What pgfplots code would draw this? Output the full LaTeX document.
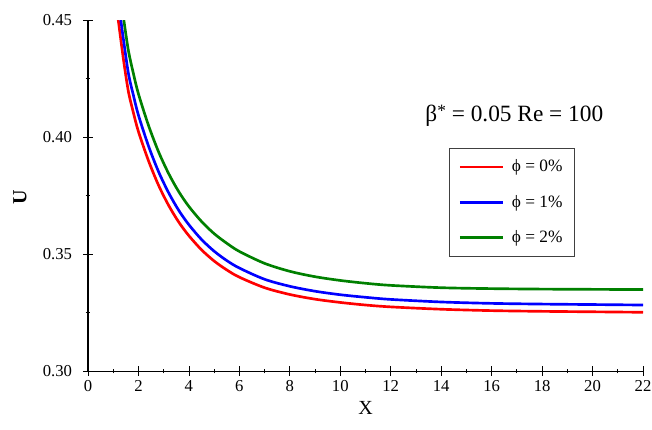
\documentclass[border=0pt]{standalone}
\usepackage{fontspec}
\setmainfont{Liberation Serif}
\usepackage{pgfplots}
\pgfplotsset{compat=1.18}
\usetikzlibrary{calc}
\definecolor{cRed}{RGB}{255,0,0}
\definecolor{cBlue}{RGB}{0,0,255}
\definecolor{cGreen}{RGB}{0,128,0}
\begin{document}
\begin{tikzpicture}
\begin{axis}[
  scale only axis, width=416.25pt, height=263.25pt,
  xmin=0, xmax=22, ymin=0.30, ymax=0.45,
  axis lines=left, axis line style={-, line width=0.75pt},
  xtick={0,2,...,22}, minor x tick num=1,
  ytick={0.30,0.35,0.40,0.45}, minor y tick num=1,
  tick align=center, major tick length=7pt, minor tick length=3.5pt,
  tick style={black, line width=0.6pt},
  /pgf/number format/assume math mode=true,
  yticklabel style={/pgf/number format/fixed, /pgf/number format/fixed zerofill, /pgf/number format/precision=2, xshift=-5pt},
  ticklabel style={font=\fontsize{12.5}{14}\selectfont},
  xlabel={X}, ylabel={\textbf{U}},
  xlabel style={font=\fontsize{15}{17}\selectfont, at={(axis description cs:0.5,-0.105)}, anchor=center},
  ylabel style={font=\fontsize{15}{17}\selectfont, at={(axis description cs:-0.1225,0.496)}, anchor=center},
  legend style={at={(axis description cs:0.650,0.635)}, anchor=north west, draw=black!75, line width=0.7pt,
    font=\fontsize{13}{15}\selectfont, row sep=12pt, inner xsep=7pt, inner ysep=6.5pt,
    /tikz/every odd column/.append style={column sep=4pt}},
  legend cell align=left,
  legend image code/.code={\draw[#1] (0pt,0pt) -- (32pt,0pt);},
  every axis plot/.append style={line width=2pt},
]
\addplot[cRed, smooth] coordinates {
(1.20,0.4500) (1.40,0.4336) (1.60,0.4195) (1.80,0.4104) (2.00,0.4023) (2.40,0.3898)
(2.80,0.3793) (3.20,0.3707) (3.60,0.3636) (4.00,0.3578) (4.50,0.3518) (5.00,0.3470)
(5.50,0.3432) (6.00,0.3401) (7.00,0.3356) (8.00,0.3327) (9.00,0.3307) (10.00,0.3293)
(11.00,0.3282) (12.00,0.3274) (14.00,0.3264) (16.00,0.3258) (18.00,0.3255) (20.00,0.3253) (22.00,0.3251)
};
\addlegendentry{ϕ = 0\%\hspace{12pt}}
\addplot[cBlue, smooth] coordinates {
(1.30,0.4500) (1.40,0.4421) (1.60,0.4273) (1.80,0.4178) (2.00,0.4093) (2.40,0.3961)
(2.80,0.3851) (3.20,0.3761) (3.60,0.3686) (4.00,0.3625) (4.50,0.3562) (5.00,0.3512)
(5.50,0.3472) (6.00,0.3440) (7.00,0.3392) (8.00,0.3362) (9.00,0.3341) (10.00,0.3326)
(11.00,0.3315) (12.00,0.3306) (14.00,0.3295) (16.00,0.3289) (18.00,0.3286) (20.00,0.3284) (22.00,0.3282)
};
\addlegendentry{ϕ = 1\%\hspace{12pt}}
\addplot[cGreen, smooth] coordinates {
(1.42,0.4500) (1.60,0.4370) (1.80,0.4271) (2.00,0.4184) (2.40,0.4049) (2.80,0.3936)
(3.20,0.3843) (3.60,0.3766) (4.00,0.3703) (4.50,0.3639) (5.00,0.3587) (5.50,0.3546)
(6.00,0.3511) (7.00,0.3460) (8.00,0.3426) (9.00,0.3403) (10.00,0.3387) (11.00,0.3375)
(12.00,0.3366) (14.00,0.3356) (16.00,0.3352) (18.00,0.3350) (20.00,0.3349) (22.00,0.3348)
};
\addlegendentry{ϕ = 2\%\hspace{12pt}}
\node[anchor=base, font=\fontsize{17.5}{20}\selectfont] at (axis cs:16.9,0.4065) {β\raisebox{0.5ex}{\fontsize{13}{14}\selectfont *} = 0.05 Re = 100};
\end{axis}
\pgfresetboundingbox
\path ($(current axis.south west)+(-66pt,-43.5pt)$) rectangle ($(current axis.north east)+(6.75pt,15pt)$);
\end{tikzpicture}
\end{document}
